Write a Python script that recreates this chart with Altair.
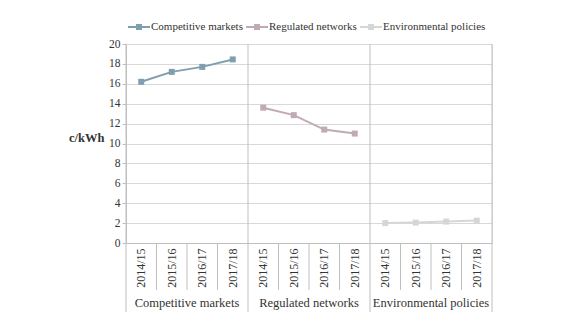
import altair as alt
import pandas as pd

groups = ["Competitive markets", "Regulated networks", "Environmental policies"]
years = ["2014/15", "2015/16", "2016/17", "2017/18"]
competitive = [16.2, 17.2, 17.7, 18.45]
regulated = [13.6, 12.85, 11.4, 11.0]
environmental = [2.0, 2.05, 2.15, 2.25]
colors = ["#7e9fb0", "#c0aab6", "#d4d8d4"]

FONT = "Liberation Serif"
W, H = 366, 199

rows = []
for g, vals in zip(groups, [competitive, regulated, environmental]):
    for yr, v in zip(years, vals):
        rows.append({"group": g, "year": yr, "key": g + "|" + yr, "value": v})
df = pd.DataFrame(rows)
keys = list(df["key"])

xscale = alt.Scale(type="band", domain=keys, paddingInner=0, paddingOuter=0)
xaxis = alt.Axis(
    title=None,
    labelExpr="split(datum.label, '|')[1]",
    labelAngle=-90,
    labelAlign="right",
    labelBaseline="middle",
    labelPadding=5,
    labelFont=FONT,
    labelFontSize=12,
    labelColor="#333333",
    ticks=False,
    domainColor="#bfbfbf",
    grid=False,
)
yscale = alt.Scale(domain=[0, 20])
yaxis = alt.Axis(
    values=list(range(0, 21, 2)),
    title="c/kWh",
    titleAngle=0,
    titleAlign="right",
    titleBaseline="middle",
    titleX=-22,
    titleY=93,
    titleFont=FONT,
    titleFontSize=12.5,
    titleFontWeight="bold",
    titleColor="#333333",
    labelFont=FONT,
    labelFontSize=11.5,
    labelColor="#333333",
    labelPadding=2,
    labelOverlap=False,
    tickSize=4,
    tickColor="#bfbfbf",
    domainColor="#bfbfbf",
    gridColor="#d9d9d9",
)

legend_path = "M-1,-0.09H1V0.09H-1Z M-0.27,-0.27H0.27V0.27H-0.27Z"
cscale = alt.Scale(domain=groups, range=colors)
legend = alt.Legend(
    title=None,
    orient="none",
    direction="horizontal",
    legendX=2,
    legendY=-28,
    symbolType=legend_path,
    symbolSize=484,
    symbolStrokeWidth=0,
    symbolOpacity=1,
    labelFont=FONT,
    labelFontSize=11,
    labelColor="#333333",
    labelOffset=1,
    columnPadding=3,
)


def X(band):
    return alt.X("key:N", sort=keys, scale=xscale, axis=xaxis, bandPosition=band)


Y = alt.Y("value:Q", scale=yscale, axis=yaxis)
C = alt.Color("group:N", sort=groups, scale=cscale, legend=legend)

base = alt.Chart(df)

lines = base.mark_line(strokeWidth=2).encode(x=X(0.5), y=Y, color=C, detail="group:N")

points = base.mark_point(shape="square", filled=True, size=36, opacity=1).encode(
    x=X(0.5), y=Y, color=C
)

sep_df = pd.DataFrame({"key": [g + "|" + yr for g in groups for yr in years[1:]]})
short_seps = alt.Chart(sep_df).mark_rule(color="#bfbfbf", strokeWidth=1).encode(
    x=X(0), y=alt.value(H), y2=alt.value(H + 47)
)

grp_df = pd.DataFrame({"key": [g + "|" + years[0] for g in groups]})
long_seps = alt.Chart(grp_df).mark_rule(color="#bfbfbf", strokeWidth=1).encode(
    x=X(0), y=alt.value(0), y2=alt.value(H + 69)
)

end_df = pd.DataFrame({"key": [keys[-1]]})
end_sep = alt.Chart(end_df).mark_rule(color="#bfbfbf", strokeWidth=1).encode(
    x=X(1), y=alt.value(0), y2=alt.value(H + 69)
)

lab_df = pd.DataFrame({"group": groups, "key": [g + "|" + years[2] for g in groups]})
group_labels = alt.Chart(lab_df).mark_text(
    font=FONT, fontSize=12.5, color="#333333", baseline="middle", align="center"
).encode(x=X(0), y=alt.value(H + 60), text="group:N")

chart = (
    alt.layer(short_seps, long_seps, end_sep, lines, points, group_labels)
    .properties(
        width=W,
        height=H,
        autosize=alt.AutoSizeParams(type="none"),
        padding={"left": 126, "top": 44, "right": 92, "bottom": 86},
    )
    .configure_view(stroke=None)
    .configure(background="white")
)

chart.save("out.html", embed_options={"renderer": "svg", "actions": False})
